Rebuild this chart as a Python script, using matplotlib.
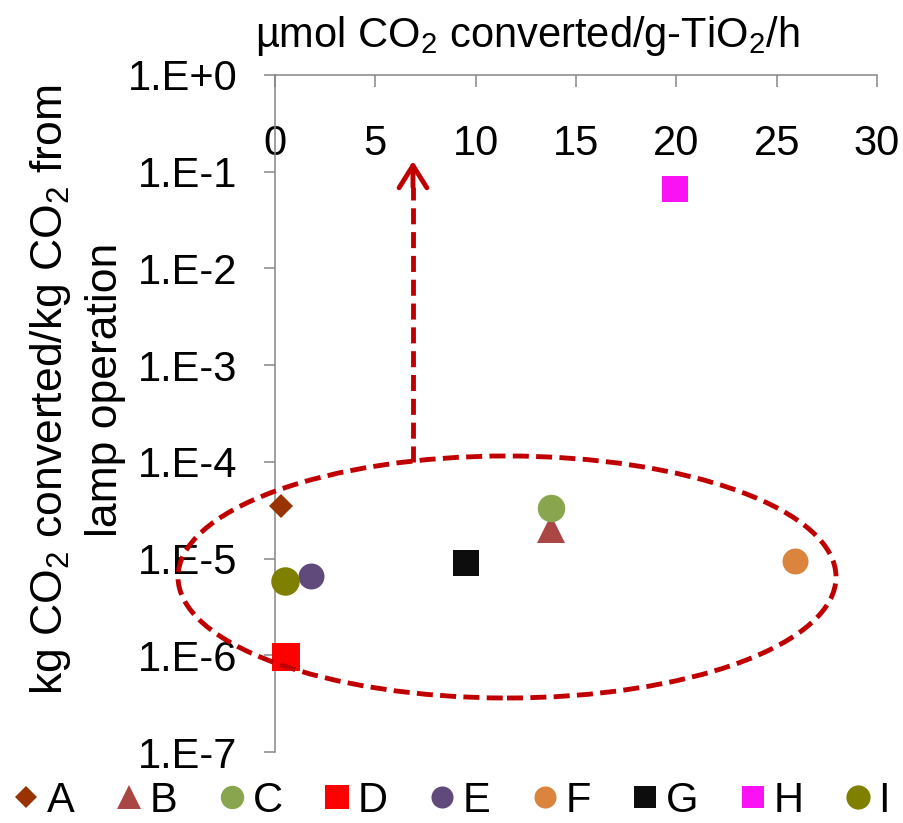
import matplotlib
matplotlib.use("Agg")
import numpy as np
import matplotlib.pyplot as plt
from matplotlib.patches import Ellipse
from matplotlib.ticker import FixedLocator, FuncFormatter, NullLocator

plt.rcParams['font.family'] = ['Liberation Sans', 'DejaVu Sans']
plt.rcParams['mathtext.fontset'] = 'custom'
plt.rcParams['mathtext.rm'] = 'Liberation Sans'
plt.rcParams['mathtext.it'] = 'Liberation Sans:italic'
plt.rcParams['mathtext.bf'] = 'Liberation Sans:bold'

# Studies compared
labels = ["A", "B", "C", "D", "E", "F", "G", "H", "I"]
# µmol CO2 converted per g TiO2 per hour
rate = [0.29, 13.75, 13.75, 0.55, 1.77, 25.9, 9.5, 19.95, 0.49]
# kg CO2 converted per kg CO2 emitted by lamp operation
ratio = [3.5e-5, 2.0e-5, 3.3e-5, 9.6e-7, 6.6e-6, 9.4e-6, 9.0e-6, 0.066, 5.9e-6]

x_ticks = [0, 5, 10, 15, 20, 25, 30]
y_ticks = [1e-7, 1e-6, 1e-5, 1e-4, 1e-3, 1e-2, 1e-1, 1e0]

markers = ['D', '^', 'o', 's', 'o', 'o', 's', 's', 'o']
colors = ['#993300', '#AA4643', '#89A54E', '#FF0000', '#604A7B',
          '#DB843D', '#0D0D0D', '#FA12F5', '#808000']
sizes = [12.7, 20, 19.8, 20, 18.7, 18.7, 18.7, 18.7, 20.5]

AXIS_GREY = '#868686'
DARK_RED = '#C00000'
FS = 30

fig = plt.figure(figsize=(9.04, 8.23), dpi=100)
ax = fig.add_axes([275 / 904, 1 - 752 / 823, 602 / 904, 677 / 823])
ax.set_yscale('log')
ax.set_xlim(0, 30)
ax.set_ylim(1e-7, 1e0)

handles = []
for lab, xv, yv, m, c, s in zip(labels, rate, ratio, markers, colors, sizes):
    h, = ax.plot([xv], [yv], linestyle='none', marker=m, ms=s, color=c,
                 mec=c, mew=0, label=lab, clip_on=False, zorder=3)
    handles.append(h)

# axes frame: only the left and top lines
for side in ('right', 'bottom'):
    ax.spines[side].set_visible(False)
for side in ('left', 'top'):
    ax.spines[side].set_color(AXIS_GREY)
    ax.spines[side].set_linewidth(1.1)

ax.xaxis.set_major_locator(FixedLocator(x_ticks))
ax.xaxis.set_major_formatter(FuncFormatter(lambda v, p: f"{v:g}"))
ax.tick_params(axis='x', which='major', top=True, bottom=False,
               labeltop=True, labelbottom=False, direction='in',
               length=8.6, width=1.1, color=AXIS_GREY, labelsize=FS, pad=-64)

ax.yaxis.set_major_locator(FixedLocator(y_ticks))
ax.yaxis.set_minor_locator(NullLocator())


def exp_label(v, pos):
    e = int(round(np.log10(v)))
    return "1.E+0" if e == 0 else f"1.E{e}"


ax.yaxis.set_major_formatter(FuncFormatter(exp_label))
ax.tick_params(axis='y', which='major', direction='out', length=8,
               width=1.1, color=AXIS_GREY, labelsize=FS, pad=19)

fig.text(527 / 904, 1 - 47 / 823, r"µmol CO$_2$ converted/g-TiO$_2$/h",
         ha='center', va='baseline', fontsize=FS)
fig.text(77 / 904, 1 - 390 / 823,
         "kg CO$_2$ converted/kg CO$_2$ from\nlamp operation",
         rotation=90, ha='center', va='center', multialignment='center',
         fontsize=32, linespacing=1.4)

# dashed ellipse grouping the lamp-driven studies
ell = Ellipse((0.3854, 0.2585), 1.093, 0.3575, transform=ax.transAxes,
              fill=False, edgecolor=DARK_RED, lw=3.5,
              linestyle=(0, (3.3, 1.5)), clip_on=False, zorder=4)
ax.add_patch(ell)

# dashed arrow pointing up toward higher ratios
ax_x = 0.2292
ax.plot([ax_x, ax_x], [0.4284, 0.835], transform=ax.transAxes,
        color=DARK_RED, lw=3.5, linestyle=(0, (3.3, 1.6)), clip_on=False,
        zorder=4, solid_capstyle='butt', dash_capstyle='butt')
ax.annotate('', xy=(ax_x, 0.873), xytext=(ax_x, 0.835),
            xycoords='axes fraction', textcoords='axes fraction',
            arrowprops=dict(arrowstyle='->, head_length=0.8, head_width=0.5',
                            lw=3.5, color=DARK_RED, mutation_scale=20,
                            shrinkA=0, shrinkB=0),
            annotation_clip=False, zorder=4)

fig.legend(handles, labels, loc='center', bbox_to_anchor=(0.5, 1 - 801 / 823),
           ncol=9, frameon=False, fontsize=FS, handlelength=0.6,
           handletextpad=0.2, columnspacing=1.0, markerscale=0.85,
           borderaxespad=0, borderpad=0)

fig.savefig("out.png", dpi=100)
